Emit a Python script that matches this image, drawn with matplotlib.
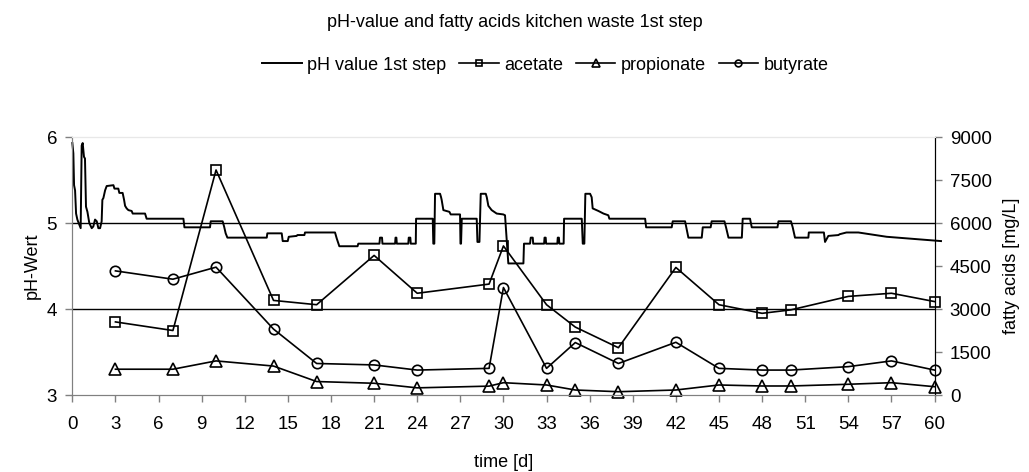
import matplotlib
matplotlib.use("Agg")
import matplotlib.pyplot as plt
import numpy as np

plt.rcParams['font.family'] = ['Liberation Sans', 'DejaVu Sans']

# sampling days of the fatty acid analyses
days_fa = [3, 7, 10, 14, 17, 21, 24, 29, 30, 33, 35, 38, 42, 45, 48, 50, 54, 57, 60]
acetate = [2550, 2250, 7850, 3300, 3150, 4870, 3550, 3870, 5200, 3150, 2370, 1650,
           4450, 3150, 2850, 2970, 3440, 3550, 3260]
propionate = [900, 900, 1190, 1010, 470, 410, 250, 310, 430, 350, 175, 115,
              175, 350, 315, 315, 375, 430, 290]
butyrate = [4330, 4040, 4460, 2300, 1100, 1050, 870, 930, 3750, 930, 1830, 1100,
            1840, 930, 870, 870, 990, 1190, 870]

# online pH record of the 1st step
ph_day = [0.00, 0.07, 0.12, 0.19, 0.26, 0.35, 0.49, 0.58, 0.65, 0.72, 0.81, 0.88, 0.95,
          1.05, 1.18, 1.35, 1.46, 1.58, 1.70, 1.81, 1.93, 2.04, 2.09, 2.16, 2.28, 2.39,
          2.86, 2.93, 3.20, 3.27, 3.50, 3.60, 3.67, 3.78, 3.90, 4.13, 4.20, 5.06, 5.17,
          7.73, 7.80, 9.58, 9.63, 10.46, 10.56, 10.67, 10.79, 13.53, 13.57, 14.57, 14.64,
          14.99, 15.06, 15.61, 15.66, 16.15, 16.19, 18.28, 18.40, 18.58, 19.85, 19.90,
          21.37, 21.41, 21.55, 21.58, 22.46, 22.49, 22.55, 22.58, 23.38, 23.41, 23.52,
          23.55, 23.90, 23.92, 25.08, 25.12, 25.19, 25.24, 25.59, 25.66, 25.70, 25.82,
          26.24, 26.33, 26.98, 27.01, 27.05, 27.10, 28.14, 28.19, 28.33, 28.42, 28.77,
          28.84, 28.95, 29.18, 29.53, 29.99, 30.11, 30.34, 31.39, 31.43, 31.85, 31.90,
          32.04, 32.07, 32.83, 32.86, 32.94, 32.97, 33.75, 33.78, 33.86, 33.89, 34.19,
          34.22, 35.45, 35.52, 35.63, 35.70, 36.03, 36.14, 36.21, 36.61, 36.96, 37.30,
          37.37, 39.86, 39.93, 41.71, 41.78, 42.64, 42.87, 43.80, 43.87, 44.42, 44.49,
          45.38, 45.49, 45.66, 46.59, 46.65, 47.16, 47.28, 49.07, 49.14, 50.01, 50.13,
          50.29, 51.22, 51.25, 52.30, 52.38, 52.61, 53.31, 53.40, 53.87, 54.70, 56.67,
          60.45]
ph_val = [5.93, 5.81, 5.44, 5.38, 5.11, 5.04, 4.98, 4.94, 5.90, 5.93, 5.77, 5.75, 5.19,
          5.13, 5.00, 4.94, 4.96, 5.04, 5.02, 4.94, 4.94, 5.02, 5.27, 5.29, 5.38, 5.43,
          5.44, 5.40, 5.40, 5.35, 5.35, 5.27, 5.20, 5.17, 5.15, 5.14, 5.11, 5.11, 5.05,
          5.05, 4.95, 4.95, 5.02, 5.02, 4.96, 4.88, 4.83, 4.83, 4.88, 4.88, 4.79,
          4.79, 4.84, 4.85, 4.86, 4.86, 4.89, 4.89, 4.82, 4.73, 4.73, 4.76,
          4.76, 4.83, 4.83, 4.76, 4.76, 4.83, 4.83, 4.76, 4.76, 4.83, 4.83,
          4.76, 4.76, 5.05, 5.05, 4.76, 4.76, 5.34, 5.34, 5.30, 5.27, 5.15,
          5.13, 5.10, 5.10, 4.76, 4.76, 5.05, 5.05, 4.78, 4.78, 5.34, 5.34,
          5.30, 5.20, 5.15, 5.11, 5.10, 5.09, 4.53, 4.53, 4.76, 4.76, 4.83,
          4.83, 4.76, 4.76, 4.83, 4.83, 4.76, 4.76, 4.83, 4.83, 4.76, 4.76,
          5.05, 5.05, 4.76, 4.76, 5.34, 5.34, 5.30, 5.17, 5.14, 5.11, 5.09,
          5.05, 5.05, 4.95, 4.95, 5.02, 5.02, 4.83, 4.83, 4.95, 4.95, 5.02,
          5.02, 4.95, 4.83, 4.83, 5.05, 5.05, 4.95, 4.95, 5.02, 5.02, 4.95,
          4.83, 4.83, 4.89, 4.89, 4.78, 4.85, 4.86, 4.87, 4.89, 4.89, 4.84,
          4.79]

x_ticks = np.arange(0, 61, 3)
ph_ticks = [3, 4, 5, 6]
fa_ticks = [0, 1500, 3000, 4500, 6000, 7500, 9000]

fig = plt.figure(figsize=(10.29, 4.72), dpi=100)
ax = fig.add_axes([0.0703, 0.1631, 0.8379, 0.5466])
ax2 = ax.twinx()

fs = 13.5
grey = '#808080'

# horizontal gridlines
for g in [4, 5]:
    ax.axhline(g, color='black', lw=1.0, zorder=1)

l_ph, = ax.plot(ph_day, ph_val, color='black', lw=1.4, clip_on=False, zorder=3,
                label='pH value 1st step')
ax.set_xlim(0, 60)
ax.set_ylim(3, 6)
ax.set_xticks(x_ticks)
ax.set_yticks(ph_ticks)
ax.set_ylabel('pH-Wert', fontsize=13, labelpad=4)
ax.set_xlabel('time [d]', fontsize=13, labelpad=15)

mk = dict(color='black', lw=1.2, markerfacecolor='none', markeredgecolor='black',
          markeredgewidth=1.2, clip_on=False)
l_ac, = ax2.plot(days_fa, acetate, marker='s', markersize=7, label='acetate', **mk)
l_pr, = ax2.plot(days_fa, propionate, marker='^', markersize=8, label='propionate', **mk)
l_bu, = ax2.plot(days_fa, butyrate, marker='o', markersize=7.5, label='butyrate', **mk)
ax2.set_ylim(0, 9000)
ax2.set_yticks(fa_ticks)
ax2.set_ylabel('fatty acids [mg/L]', fontsize=13, labelpad=8)

for a in (ax, ax2):
    a.spines['top'].set_color('#e8e8e8')
    a.spines['left'].set_color(grey)
    a.spines['bottom'].set_color(grey)
    a.spines['right'].set_color('black')
    a.tick_params(labelsize=fs, color=grey, length=5, width=1)
ax.tick_params(axis='x', pad=10)
ax.tick_params(axis='y', pad=6)
ax2.tick_params(axis='y', pad=6)

fig.text(0.5, 0.953, 'pH-value and fatty acids kitchen waste 1st step',
         ha='center', va='center', fontsize=13)

fig.legend(handles=[l_ph, l_ac, l_pr, l_bu], loc='center', ncol=4,
           bbox_to_anchor=(0.53, 0.862), frameon=False, fontsize=13,
           markerscale=0.65, handlelength=2.2, handletextpad=0.3, columnspacing=0.7)

fig.savefig('out.png', dpi=100)
